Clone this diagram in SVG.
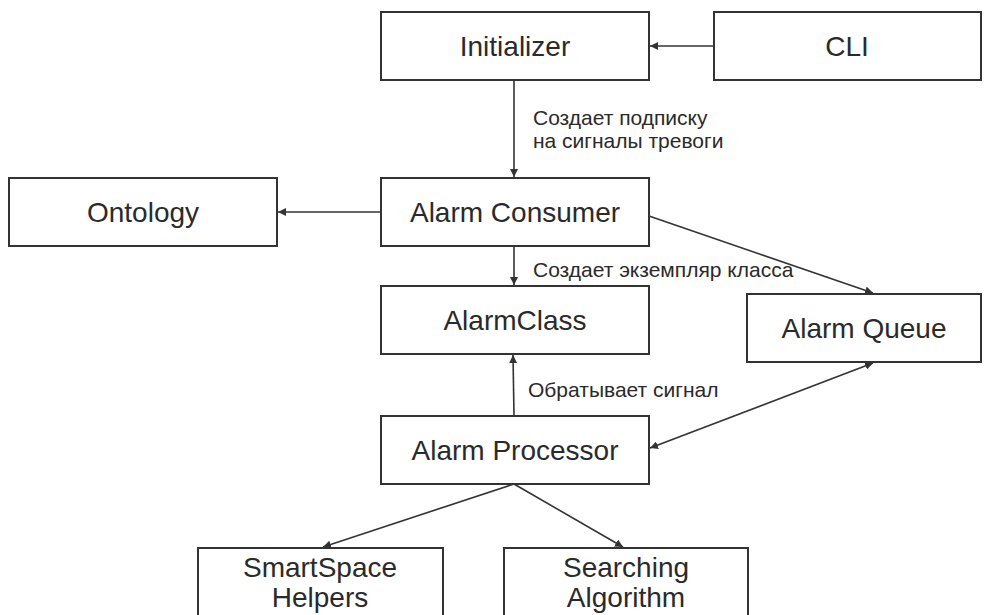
<svg xmlns="http://www.w3.org/2000/svg" width="1003" height="615" viewBox="0 0 1003 615">
  <style>
    .box { fill: #ffffff; stroke: #333333; stroke-width: 2; }
    .label { font-family: "Liberation Sans", Arial, sans-serif; font-size: 28px; fill: #2a2a2a; text-anchor: middle; }
    .note { font-family: "Liberation Sans", Arial, sans-serif; font-size: 21px; fill: #2a2a2a; }
    .edge { fill: none; stroke: #333333; stroke-width: 1.6; }
  </style>
  <defs>
    <marker id="arrow" viewBox="0 0 10 10" refX="10" refY="5" markerWidth="8" markerHeight="8" markerUnits="userSpaceOnUse" orient="auto">
      <path d="M0,0 L10,5 L0,10 z" fill="#333333"/>
    </marker>
    <marker id="arrowStart" viewBox="0 0 10 10" refX="0" refY="5" markerWidth="8" markerHeight="8" markerUnits="userSpaceOnUse" orient="auto">
      <path d="M10,0 L0,5 L10,10 z" fill="#333333"/>
    </marker>
  </defs>

  <rect width="1003" height="615" fill="#ffffff"/>

  <g id="connectors">
    <line class="edge" x1="714" y1="46" x2="650" y2="46" marker-end="url(#arrow)"/>
    <line class="edge" x1="514" y1="80" x2="514" y2="177" marker-end="url(#arrow)"/>
    <line class="edge" x1="381" y1="212" x2="278" y2="212" marker-end="url(#arrow)"/>
    <line class="edge" x1="514" y1="246" x2="514" y2="285" marker-end="url(#arrow)"/>
    <line class="edge" x1="649" y1="216" x2="873" y2="293" marker-end="url(#arrow)"/>
    <line class="edge" x1="514" y1="416" x2="513" y2="355" marker-end="url(#arrow)"/>
    <line class="edge" x1="650" y1="448" x2="873" y2="363" marker-start="url(#arrowStart)" marker-end="url(#arrow)"/>
    <line class="edge" x1="514" y1="484" x2="323" y2="547" marker-end="url(#arrow)"/>
    <line class="edge" x1="514" y1="484" x2="623" y2="547" marker-end="url(#arrow)"/>
    <text class="note" x="533" y="125">Создает подписку</text>
    <text class="note" x="533" y="148">на сигналы тревоги</text>
    <text class="note" x="533" y="277">Создает экземпляр класса</text>
    <text class="note" x="528" y="397">Обратывает сигнал</text>
  </g>

  <g id="initializer">
    <rect class="box" x="381" y="12" width="268" height="68"/>
    <text class="label" x="515" y="56">Initializer</text>
  </g>
  <g id="cli">
    <rect class="box" x="714" y="12" width="267" height="68"/>
    <text class="label" x="847" y="56">CLI</text>
  </g>
  <g id="ontology">
    <rect class="box" x="9" y="178" width="268" height="68"/>
    <text class="label" x="143" y="222">Ontology</text>
  </g>
  <g id="alarm-consumer">
    <rect class="box" x="381" y="178" width="268" height="68"/>
    <text class="label" x="515" y="222">Alarm Consumer</text>
  </g>
  <g id="alarm-class">
    <rect class="box" x="381" y="286" width="268" height="68"/>
    <text class="label" x="515" y="330">AlarmClass</text>
  </g>
  <g id="alarm-queue">
    <rect class="box" x="747" y="294" width="234" height="68"/>
    <text class="label" x="864" y="338">Alarm Queue</text>
  </g>
  <g id="alarm-processor">
    <rect class="box" x="381" y="416" width="268" height="68"/>
    <text class="label" x="515" y="460">Alarm Processor</text>
  </g>
  <g id="smartspace-helpers">
    <rect class="box" x="198" y="548" width="245" height="80"/>
    <text class="label" x="320" y="577">SmartSpace</text>
    <text class="label" x="320" y="607">Helpers</text>
  </g>
  <g id="searching-algorithm">
    <rect class="box" x="504" y="548" width="244" height="80"/>
    <text class="label" x="626" y="577">Searching</text>
    <text class="label" x="626" y="607">Algorithm</text>
  </g>
</svg>
